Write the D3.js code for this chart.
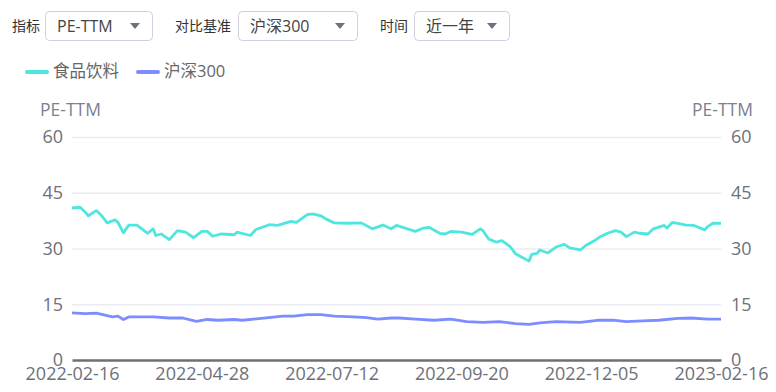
<!DOCTYPE html>
<html>
<head>
<meta charset="utf-8">
<script src="https://cdn.jsdelivr.net/npm/d3@7"></script>
<style>
  html, body { margin: 0; padding: 0; background: #fff; }
  svg { display: block; font-family: "Open Sans", "Noto Sans CJK SC", sans-serif; }
</style>
</head>
<body>
<svg id="chart" width="776" height="392"></svg>
<script>
// trading-day index (0 = 2022-02-16, 240 = 2023-02-16) and PE-TTM readings
const foodDays = [0, 3, 5, 6, 9, 11, 13, 16, 17, 19, 21, 24, 28, 30, 31, 33, 36, 39, 42, 45, 48, 50, 52, 55, 60, 61, 66, 68, 73, 76, 81, 83, 87, 89, 92, 94, 97, 102, 107, 111, 115, 118, 120, 124, 127, 130, 132, 136, 138, 140, 144, 148, 151, 152, 154, 157, 159, 162, 164, 169, 170, 172, 173, 176, 179, 182, 184, 188, 190, 193, 195, 198, 201, 203, 205, 208, 210, 213, 215, 219, 220, 222, 225, 227, 230, 234, 235, 237, 240];
const foodPE = [40.9, 41.1, 39.7, 38.8, 40.2, 38.8, 36.9, 37.7, 37.0, 34.2, 36.3, 36.3, 34.1, 35.3, 33.5, 33.9, 32.4, 34.8, 34.4, 32.9, 34.6, 34.6, 33.3, 33.9, 33.7, 34.4, 33.5, 35.1, 36.4, 36.2, 37.3, 37.0, 39.1, 39.3, 38.8, 37.9, 36.9, 36.8, 36.9, 35.3, 36.3, 35.3, 36.2, 35.3, 34.6, 35.5, 35.7, 34.1, 33.9, 34.6, 34.4, 33.8, 35.3, 34.8, 32.6, 31.7, 32.1, 30.5, 28.6, 26.6, 28.4, 28.7, 29.6, 28.8, 30.4, 31.1, 30.2, 29.6, 30.8, 32.0, 33.0, 34.1, 34.8, 34.4, 33.2, 34.4, 34.1, 33.9, 35.3, 36.2, 35.5, 37.0, 36.6, 36.3, 36.2, 35.0, 35.9, 36.8, 36.8];

const hsDays = [0, 5, 9, 11, 15, 17, 19, 21, 25, 30, 36, 41, 46, 50, 54, 60, 63, 70, 78, 82, 87, 92, 97, 104, 109, 113, 118, 121, 127, 134, 140, 146, 152, 158, 164, 169, 173, 179, 188, 195, 200, 205, 211, 217, 224, 229, 235, 240];
const hsPE = [12.7, 12.5, 12.6, 12.3, 11.6, 11.8, 10.9, 11.6, 11.6, 11.6, 11.3, 11.3, 10.4, 10.9, 10.7, 10.9, 10.7, 11.2, 11.8, 11.8, 12.2, 12.2, 11.8, 11.6, 11.4, 11.0, 11.3, 11.3, 11.0, 10.7, 11.0, 10.3, 10.1, 10.3, 9.8, 9.6, 10.0, 10.3, 10.1, 10.7, 10.7, 10.3, 10.5, 10.7, 11.2, 11.3, 11.0, 11.0];

const tickDays = [0, 48, 96, 144, 192, 240];
const tickDates = ["2022-02-16", "2022-04-28", "2022-07-12", "2022-09-20", "2022-12-05", "2023-02-16"];
const yTicks = [0, 15, 30, 45, 60];

const seriesNames = ["食品饮料", "沪深300"];
const seriesColors = ["#4fe6df", "#7c8eff"];

const controls = [
  { label: "指标", value: "PE-TTM", x: 12, boxX: 45, boxW: 107 },
  { label: "对比基准", value: "沪深300", x: 175, boxX: 238, boxW: 119 },
  { label: "时间", value: "近一年", x: 380, boxX: 414, boxW: 95 },
];

const svg = d3.select("#chart");
const margin = { left: 72, right: 55, top: 137, bottom: 32 };
const width = 776;
const height = 392;

const x = d3.scaleLinear().domain([0, 240]).range([margin.left, width - margin.right]);
const y = d3.scaleLinear().domain([0, 60]).range([height - margin.bottom, margin.top]);

// top select boxes
const ctl = svg.append("g").attr("class", "controls");
for (const c of controls) {
  ctl.append("text")
    .attr("x", c.x).attr("y", 26).attr("dy", "0.35em")
    .attr("font-size", 14).attr("fill", "#333")
    .attr("font-family", "'Noto Sans CJK SC', sans-serif")
    .text(c.label);
  ctl.append("rect")
    .attr("x", c.boxX + 0.5).attr("y", 11.5)
    .attr("width", c.boxW).attr("height", 29)
    .attr("rx", 4)
    .attr("fill", "#fff").attr("stroke", "#cfcfe0");
  ctl.append("text")
    .attr("x", c.boxX + 12).attr("y", 26).attr("dy", "0.35em")
    .attr("font-size", 16).attr("fill", "#444")
    .text(c.value);
  const ax = c.boxX + c.boxW - 17;
  ctl.append("path")
    .attr("d", `M${ax - 5},23 L${ax + 5},23 L${ax},29 Z`)
    .attr("fill", "#6f6f80");
}

// legend
const legend = svg.append("g").attr("class", "legend");
const legendX = [27, 138];
seriesNames.forEach((name, i) => {
  legend.append("line")
    .attr("x1", legendX[i]).attr("x2", legendX[i] + 20)
    .attr("y1", 72).attr("y2", 72)
    .attr("stroke", seriesColors[i]).attr("stroke-width", 4)
    .attr("stroke-linecap", "round");
  legend.append("text")
    .attr("x", legendX[i] + 26).attr("y", 71).attr("dy", "0.35em")
    .attr("font-size", 16.5).attr("fill", "#666")
    .text(name);
});

// grid
svg.append("g")
  .selectAll("line")
  .data(yTicks.filter((t) => t > 0))
  .join("line")
  .attr("x1", x(0)).attr("x2", x(240))
  .attr("y1", (t) => y(t) + 0.5).attr("y2", (t) => y(t) + 0.5)
  .attr("stroke", "#ebebf3").attr("stroke-width", 1.5);

// y axes, left and right
const axisStyle = (g) => {
  g.select(".domain").remove();
  g.selectAll(".tick line").remove();
  g.selectAll(".tick text")
    .attr("font-size", 18).attr("fill", "#6e7079")
    .attr("font-family", "'Open Sans', sans-serif");
};

svg.append("g")
  .attr("transform", `translate(${margin.left},0)`)
  .call(d3.axisLeft(y).tickValues(yTicks).tickSize(0).tickPadding(9))
  .call(axisStyle);

svg.append("g")
  .attr("transform", `translate(${width - margin.right},0)`)
  .call(d3.axisRight(y).tickValues(yTicks).tickSize(0).tickPadding(10))
  .call(axisStyle);

svg.append("text")
  .attr("x", 40).attr("y", 110).attr("dy", "0.35em")
  .attr("font-size", 17.5).attr("fill", "#7d8090")
  .text("PE-TTM");
svg.append("text")
  .attr("x", 753).attr("y", 110).attr("dy", "0.35em")
  .attr("text-anchor", "end")
  .attr("font-size", 17.5).attr("fill", "#7d8090")
  .text("PE-TTM");

// series lines
const line = d3.line()
  .x((d) => x(d[0]))
  .y((d) => y(d[1]));

const seriesData = [
  d3.zip(foodDays, foodPE),
  d3.zip(hsDays, hsPE),
];

svg.append("g")
  .selectAll("path")
  .data(seriesData)
  .join("path")
  .attr("d", line)
  .attr("fill", "none")
  .attr("stroke", (_d, i) => seriesColors[i])
  .attr("stroke-width", 2.8)
  .attr("stroke-linejoin", "round");

// x axis
const xAxis = svg.append("g")
  .attr("transform", `translate(0,${y(0)})`)
  .call(
    d3.axisBottom(x)
      .tickValues(tickDays)
      .tickFormat((d, i) => tickDates[i])
      .tickSize(0)
      .tickPadding(7),
  );
xAxis.select(".domain").attr("stroke", "#6e7079").attr("stroke-width", 2.5);
xAxis.selectAll(".tick text")
  .attr("font-size", 18).attr("fill", "#6e7079")
  .attr("font-family", "'Open Sans', sans-serif");
</script>
</body>
</html>
